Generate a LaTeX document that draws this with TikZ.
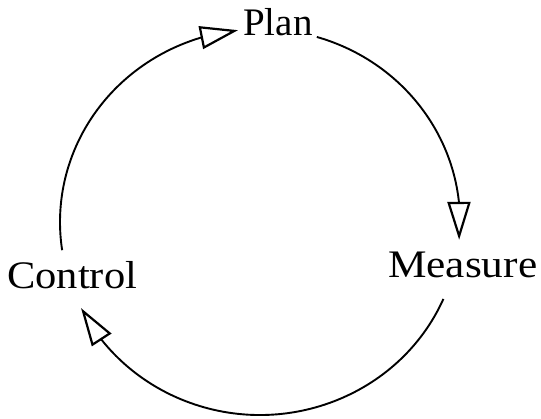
\documentclass[tikz,border=0pt]{standalone}
\usepackage{fontspec}
\setmainfont{Liberation Serif}
\usetikzlibrary{arrows.meta,bending,calc}
\tikzset{
  cyc/.style={line width=1.9pt, -{Triangle[open, length=38pt, width=23pt, line width=2.2pt, flex]}},
  lbl/.style={anchor=base west, inner sep=0pt, font=\fontsize{39}{44}\selectfont}
}
\begin{document}
\begin{tikzpicture}[x=1pt,y=1pt]
\useasboundingbox (0,0) rectangle (541,419);
\coordinate (c) at (260,197);
\node[lbl] (plan) at (243,383) {Plan};
\node[lbl] (control) at (7,130) {\scalebox{1.09}[1]{Control}};
\node[lbl] (measure) at (388,141) {\scalebox{1.11}[1]{Measure}};
\coordinate (a1) at ($(c)+(188.4:200 and 193)$);
\coordinate (b1) at ($(c)+(73.5:200 and 193)$);
\coordinate (d1) at ($(c)+(-23.5:200 and 193)$);
\draw[cyc] (a1) arc[start angle=188.4, end angle=96.3, x radius=200, y radius=193];
\draw[cyc] (b1) arc[start angle=73.5, end angle=-5.3, x radius=200, y radius=193];
\draw[cyc] (d1) arc[start angle=-23.5, end angle=-153.5, x radius=200, y radius=193];
\end{tikzpicture}
\end{document}
